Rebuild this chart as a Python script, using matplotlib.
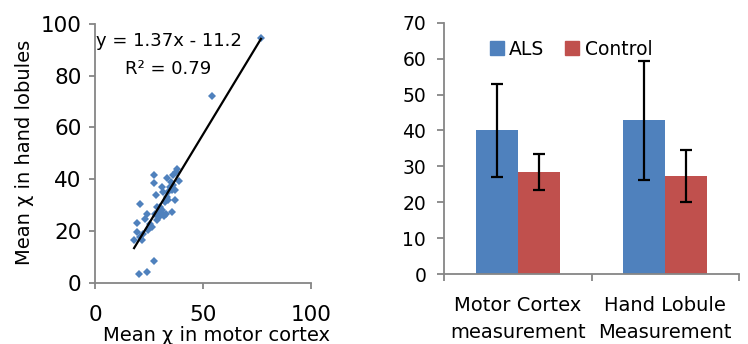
import matplotlib
matplotlib.use("Agg")
import matplotlib.pyplot as plt
from matplotlib.patches import Patch

# ---------------------------------------------------------------------------
# Data
# ---------------------------------------------------------------------------

# scatter: mean chi in motor cortex vs mean chi in hand lobules
motor_cortex = [76.9, 54.2, 27.1, 27.1, 20.6, 27.1, 20.1, 23.8, 33.1, 37.8,
                38.9, 37.0, 35.4, 28.0, 19.2, 18.0, 23.8, 23.1, 19.2, 22.3,
                20.7, 21.5, 28.5, 29.7, 30.8, 31.6, 30.0, 32.4, 33.1, 33.9,
                34.7, 35.4, 36.2, 37.0, 30.8, 31.6, 28.5, 27.7, 29.7, 31.9,
                32.8, 33.9, 37.3, 36.2, 35.0, 25.4, 26.2, 24.6]
hand_lobules = [94.5, 72.3, 41.6, 38.4, 30.4, 8.6, 3.6, 4.2, 40.5, 44.1,
                39.3, 31.9, 27.3, 33.8, 23.2, 16.7, 26.8, 24.8, 19.7, 19.0,
                17.8, 16.5, 24.2, 25.5, 28.1, 26.8, 29.3, 31.3, 33.2, 35.1,
                37.1, 35.8, 37.7, 35.8, 37.1, 35.1, 29.3, 26.8, 27.4, 25.7,
                26.8, 31.9, 42.9, 41.6, 39.0, 22.9, 21.6, 20.3]

# trendline as shown on the chart
slope = 1.37
intercept = -11.2
r_squared = 0.79

# bar chart: ALS vs Control
categories = ["Motor Cortex\nmeasurement", "Hand Lobule\nMeasurement"]
als_mean = [40.0, 42.8]
als_err = [13.0, 16.5]
control_mean = [28.5, 27.3]
control_err = [5.0, 7.2]

# ---------------------------------------------------------------------------
# Style
# ---------------------------------------------------------------------------
plt.rcParams["font.family"] = ["DejaVu Sans"]
blue = "#4F81BD"
red = "#C0504D"
spine_gray = "#868686"

fig = plt.figure(figsize=(7.48, 3.44), dpi=100)

W, H = 748, 344


def px_axes(x0, y0, x1, y1):
    return fig.add_axes([x0 / W, 1 - y1 / H, (x1 - x0) / W, (y1 - y0) / H])


def style_spines(ax):
    for s in ["top", "right"]:
        ax.spines[s].set_visible(False)
    for s in ["left", "bottom"]:
        ax.spines[s].set_color(spine_gray)
        ax.spines[s].set_linewidth(1.3)


# ---------------------------------------------------------------------------
# Left: scatter with trendline
# ---------------------------------------------------------------------------
ax1 = px_axes(95.3, 23.7, 310.7, 283)
ax1.plot(motor_cortex, hand_lobules, linestyle="none", marker="D",
         markersize=4.2, color=blue, markeredgewidth=0)
x_min, x_max = min(motor_cortex), max(motor_cortex)
ax1.plot([x_min, x_max], [slope * x_min + intercept, slope * x_max + intercept],
         color="black", linewidth=1.6)
ax1.set_xlim(0, 100)
ax1.set_ylim(0, 100)
ax1.set_xticks([0, 50, 100])
ax1.set_yticks(range(0, 101, 20))
style_spines(ax1)
ax1.tick_params(axis="y", direction="out", length=4, width=1.3,
                color=spine_gray, labelsize=15.5, pad=6)
ax1.tick_params(axis="x", direction="out", length=4, width=1.3,
                color=spine_gray, labelsize=15.5, pad=12)
ax1.text(34, 93.5, f"y = {slope}x - {abs(intercept)}", fontsize=13,
         ha="center", va="center")
ax1.text(34, 82.5, f"R² = {r_squared}", fontsize=13, ha="center", va="center")

fig.text(25 / W, 1 - 152 / H, "Mean χ in hand lobules", rotation=90,
         fontsize=14, ha="center", va="center")
fig.text(103 / W, 1 - 341 / H, "Mean χ in motor cortex",
         fontsize=14, ha="left", va="baseline")

# ---------------------------------------------------------------------------
# Right: bar chart with error bars
# ---------------------------------------------------------------------------
ax2 = px_axes(444.3, 22.7, 739, 274)
pos = list(range(len(categories)))
bw = 0.285
ax2.bar([p - bw / 2 for p in pos], als_mean, width=bw, color=blue,
        label="ALS", yerr=als_err, capsize=4.5,
        error_kw=dict(elinewidth=1.6, capthick=1.6, ecolor="black"))
ax2.bar([p + bw / 2 for p in pos], control_mean, width=bw, color=red,
        label="Control", yerr=control_err, capsize=4.5,
        error_kw=dict(elinewidth=1.6, capthick=1.6, ecolor="black"))
ax2.set_xlim(-0.5, len(categories) - 0.5)
ax2.set_ylim(0, 70)
ax2.set_yticks(range(0, 71, 10))
ax2.set_xticks(pos)
ax2.set_xticklabels(categories, linespacing=1.5)
ax2.set_xticks([-0.5, 0.5, 1.5], minor=True)
style_spines(ax2)
ax2.tick_params(axis="y", direction="out", length=5, width=1.3,
                color=spine_gray, labelsize=13.5, pad=8)
ax2.tick_params(axis="x", which="major", length=0, labelsize=14, pad=16)
ax2.tick_params(axis="x", which="minor", direction="out", length=5,
                width=1.3, color=spine_gray)

handles = [Patch(color=blue, label="ALS"), Patch(color=red, label="Control")]
ax2.legend(handles=handles, loc="upper center", bbox_to_anchor=(0.43, 1.0),
           ncol=2, frameon=False, fontsize=13.5, handlelength=0.75,
           handleheight=0.75, handletextpad=0.3, columnspacing=1.1)

fig.savefig("out.png", dpi=100)
